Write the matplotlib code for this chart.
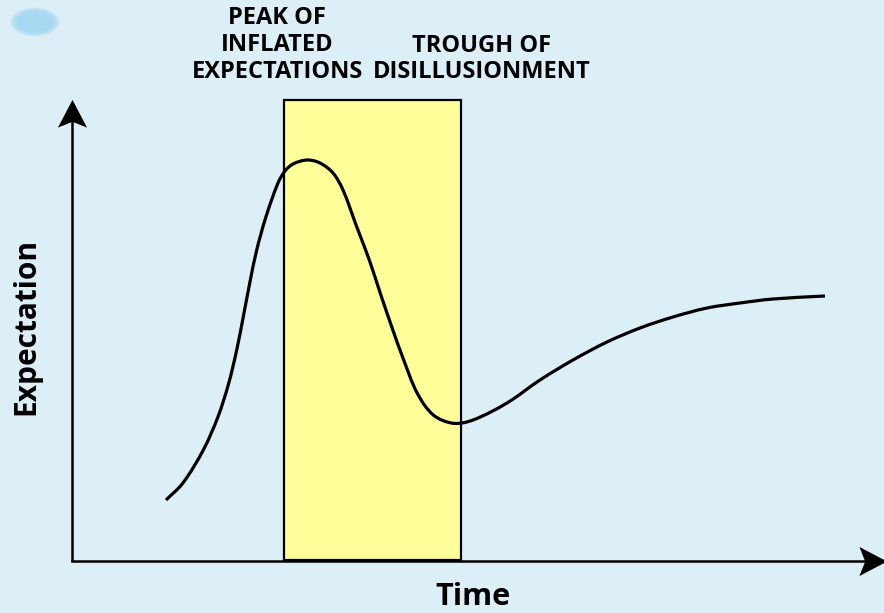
import matplotlib
matplotlib.use('Agg')
import numpy as np
import matplotlib.pyplot as plt
from matplotlib.patches import Rectangle, Ellipse, PathPatch
from matplotlib.path import Path

# Hype-cycle curve (time vs expectation, arbitrary units)
time = [94, 110.7, 131.3, 146, 156.7, 164.7, 171.3, 177.7, 184.7, 194, 206,
        213, 221, 235, 248, 261, 271, 284.7, 297.3, 308.3, 319.7, 331.7, 345.3,
        361.3, 381.3, 401, 435, 468, 501, 535, 568, 601, 635, 668, 701, 753]
expectation = [60, 76.7, 110, 143.3, 176.7, 210, 243.3, 276.7, 310, 343.3, 377,
               389, 396, 400, 397, 387, 370, 333.3, 300, 266.7, 233.3, 200, 166.7,
               145, 136.7, 140, 157, 180, 200, 218, 232, 243, 252, 257, 261, 264]

# highlighted phase between peak and trough
phase_start = 212
phase_end = 389
phase_top = 460

peak_label = 'PEAK OF\nINFLATED\nEXPECTATIONS'
trough_label = 'TROUGH OF\nDISILLUSIONMENT'
x_label = 'Time'
y_label = 'Expectation'

bg = '#dceff7'
W, H = 884, 613

plt.rcParams['font.family'] = ['Open Sans', 'DejaVu Sans']


def smooth_path(xs, ys):
    # smooth curve through the points (chord-length tangents, cubic beziers)
    p = np.column_stack([xs, ys]).astype(float)
    d = np.hypot(*np.diff(p, axis=0).T)
    n = len(p)
    m = np.zeros_like(p)
    m[0] = (p[1] - p[0]) / d[0]
    m[-1] = (p[-1] - p[-2]) / d[-1]
    for i in range(1, n - 1):
        m[i] = (p[i + 1] - p[i - 1]) / (d[i - 1] + d[i])
    verts = [p[0]]
    codes = [Path.MOVETO]
    for i in range(n - 1):
        verts += [p[i] + m[i] * d[i] / 3, p[i + 1] - m[i + 1] * d[i] / 3, p[i + 1]]
        codes += [Path.CURVE4] * 3
    return Path(verts, codes)


# notched arrow head, pointing up / right
head_up = Path([(0, 0.5), (-0.5, -0.45), (0, -0.25), (0.5, -0.45), (0, 0.5)],
               [Path.MOVETO, Path.LINETO, Path.LINETO, Path.LINETO, Path.CLOSEPOLY])
head_right = Path([(0.5, 0), (-0.45, 0.5), (-0.25, 0), (-0.45, -0.5), (0.5, 0)],
                  [Path.MOVETO, Path.LINETO, Path.LINETO, Path.LINETO, Path.CLOSEPOLY])

fig = plt.figure(figsize=(W / 100, H / 100), dpi=100)
fig.patch.set_facecolor(bg)

# axes placed so that the origin sits where the arrows meet
ax = fig.add_axes([72 / W, (H - 560) / H, (W - 72) / W, 560 / H])
ax.set_xlim(0, W - 72)
ax.set_ylim(0, 560)
ax.axis('off')

# yellow band
ax.add_patch(Rectangle((phase_start, 0), phase_end - phase_start, phase_top,
                       facecolor='#ffff99', edgecolor='black', lw=1.6, zorder=1,
                       clip_on=False))

# curve
ax.add_patch(PathPatch(smooth_path(time, expectation), facecolor='none',
                       edgecolor='black', lw=2.3, capstyle='butt', zorder=3,
                       clip_on=False))

# axis lines with arrow heads
ax.plot([0, 0], [0, 445], color='black', lw=1.8, zorder=4, clip_on=False)
ax.plot([0, 800], [-1, -1], color='black', lw=1.8, zorder=4, clip_on=False)
ax.plot([0], [446], marker=head_up, markersize=21, color='black', mew=0,
        zorder=5, clip_on=False)
ax.plot([800], [-1], marker=head_right, markersize=21, color='black', mew=0,
        zorder=5, clip_on=False)

# blurred blue blob top left
bx, by = 35 / W, 1 - 22 / H
for k in range(7):
    s = 1 + k * 0.06
    fig.patches.append(Ellipse((bx, by), 36 * s / W, 21 * s / H,
                               transform=fig.transFigure, facecolor='#a9d9f2',
                               edgecolor='none', alpha=0.3 if k else 0.8,
                               zorder=0))

# labels
fig.text(277 / W, 1 - 45 / H, peak_label, ha='center', va='center',
         fontsize=17, fontweight='bold', linespacing=1.15)
fig.text(482 / W, 1 - 59 / H, trough_label, ha='center', va='center',
         fontsize=17, fontweight='bold', linespacing=1.15)
fig.text(473 / W, 1 - 605 / H, x_label, ha='center', va='baseline',
         fontsize=22, fontweight='bold')
fig.text(26 / W, 1 - 326 / H, y_label, ha='center', va='center',
         fontsize=21.5, fontweight='bold', rotation=90)

fig.savefig('out.png', dpi=100, facecolor=bg)
